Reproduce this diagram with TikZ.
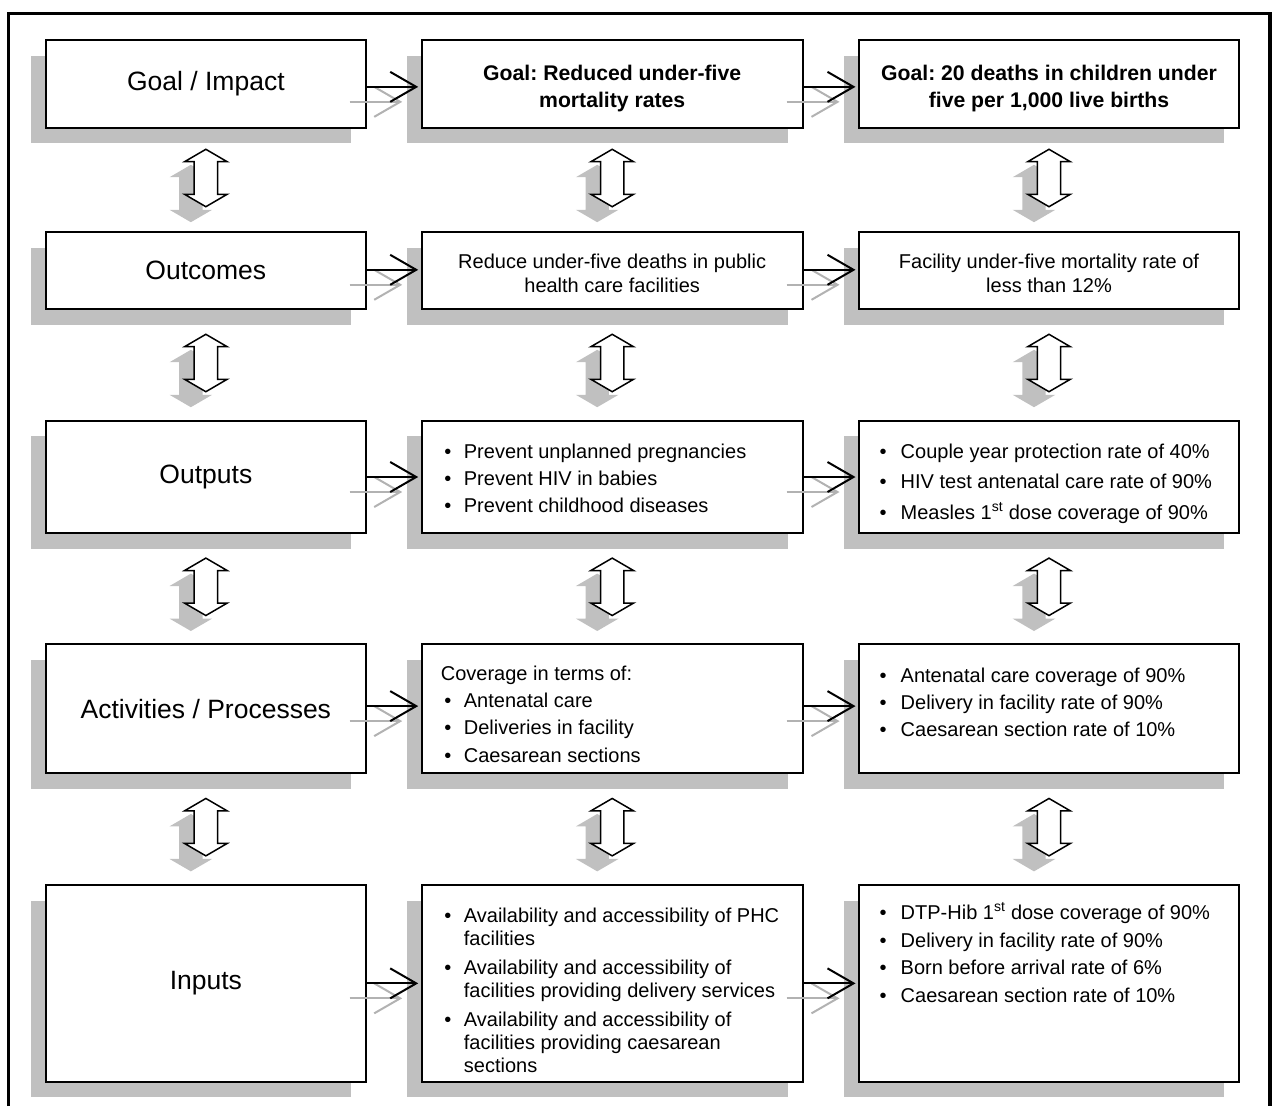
\documentclass[tikz,border=0pt]{standalone}
\usepackage{fontspec}
\setmainfont{Liberation Sans}
\usetikzlibrary{arrows.meta,calc,shadows}
\frenchspacing

\definecolor{shadegray}{RGB}{192,192,192}
\definecolor{arrowgray}{RGB}{178,178,178}

\newcommand\labelfont{\fontsize{26.5}{30}\selectfont}
\newcommand\bodyfont{\fontsize{20}{23}\selectfont}
\newcommand\goalfont{\fontsize{21.2}{23}\selectfont\bfseries}

% outline of the two-headed vertical arrow, centred on the origin
\newcommand\dblpath{(0,-28.7) -- (21.3,-16.3) -- (11.7,-16.3) -- (11.7,16.3) -- (21.3,16.3) -- (0,28.7) -- (-21.3,16.3) -- (-11.7,16.3) -- (-11.7,-16.3) -- (-21.3,-16.3) -- cycle}

% horizontal link with its grey shadow: #1 from, #2 to, #3 vertical offset
\newcommand\flowlink[3]{%
  \draw[shadowlink] ([xshift=-16pt,yshift=#3-15pt]#1.east) -- ([xshift=-16pt,yshift=#3-15pt]#2.west);
  \draw[link] ([yshift=#3]#1.east) -- ([yshift=#3]#2.west);
}

\begin{document}
\begin{tikzpicture}[x=1pt,y=-1pt,
  box/.style={draw, line width=1.8pt, fill=white, outer sep=0pt, inner sep=0pt,
    drop shadow={shadow xshift=-15pt, shadow yshift=-15.7pt, fill=shadegray, opacity=1}},
  col1/.style={box, minimum width=319.7pt, font=\labelfont},
  col2/.style={box, minimum width=381pt},
  col3/.style={box, minimum width=380pt},
  row1/.style={minimum height=87.7pt},
  row2/.style={minimum height=77pt},
  row3/.style={minimum height=112.6pt},
  row4/.style={minimum height=129pt},
  row5/.style={minimum height=196.7pt},
  ctext/.style={align=center, inner sep=0pt, font=\bodyfont},
  ltext/.style={anchor=north west, inner sep=0pt, font=\bodyfont},
  link/.style={line width=2pt, -{Straight Barb[length=26pt,width=30pt]}, shorten >=3.5pt},
  shadowlink/.style={link, draw=arrowgray},
  updown/.pic={
    \begin{scope}[shift={(-15,15.5)}]
      \fill[shadegray] \dblpath;
    \end{scope}
    \draw[line width=1.5pt, fill=white, line join=miter] \dblpath;
  }
]
\useasboundingbox (0,0) rectangle (1274,1106);

% outer frame
\draw[line width=3.3pt] (8.8,1106) -- (8.8,13.5) -- (1270,13.5) -- (1270,1106);

% ---- boxes ----
\node[col1,row1] (b11) at (205.85,83.85) {Goal / Impact};
\node[col2,row1] (b12) at (612.2,83.85) {};
\node[col3,row1] (b13) at (1049,83.85) {};

\node[col1,row2] (b21) at (205.85,270.8) {Outcomes};
\node[col2,row2] (b22) at (612.2,270.8) {};
\node[col3,row2] (b23) at (1049,270.8) {};

\node[col1,row3] (b31) at (205.85,477) {Outputs};
\node[col2,row3] (b32) at (612.2,477) {};
\node[col3,row3] (b33) at (1049,477) {};

\node[col1,row4] (b41) at (205.85,708.8) {Activities / Processes};
\node[col2,row4] (b42) at (612.2,708.8) {};
\node[col3,row4] (b43) at (1049,708.8) {};

\node[col1,row5] (b51) at (205.85,983.35) {Inputs};
\node[col2,row5] (b52) at (612.2,983.35) {};
\node[col3,row5] (b53) at (1049,983.35) {};

% ---- texts ----
\node[ctext, font=\goalfont] (t12) at ([yshift=-4.7pt]b12.center)
  {Goal: Reduced under-five\\[4pt]mortality rates};
\node[ctext, font=\goalfont] (t13) at ([yshift=-4.7pt]b13.center)
  {Goal: 20 deaths in children under\\[4pt]five per 1,000 live births};

\node[ctext] (t22) at ([yshift=-2.2pt]b22.center)
  {Reduce under-five deaths in public\\[1pt]health care facilities};
\node[ctext] (t23) at ([yshift=-2.2pt]b23.center)
  {Facility under-five mortality rate of\\[1pt]less than 12\%};

\node[ltext] (t32) at ([xshift=22.5pt,yshift=-21.2pt]b32.north west)
  {\begin{tabular}{@{}l@{\hspace{12.5pt}}l@{}}
   \textbullet & Prevent unplanned pregnancies\\[4pt]
   \textbullet & Prevent HIV in babies\\[4pt]
   \textbullet & Prevent childhood diseases
   \end{tabular}};
\node[ltext] (t33) at ([xshift=20.5pt,yshift=-21.9pt]b33.north west)
  {\begin{tabular}{@{}l@{\hspace{14pt}}l@{}}
   \textbullet & Couple year protection rate of 40\%\\[7pt]
   \textbullet & HIV test antenatal care rate of 90\%\\[7pt]
   \textbullet & Measles 1\textsuperscript{st} dose coverage of 90\%
   \end{tabular}};

\node[ltext] (t42) at ([xshift=22.5pt,yshift=-19.6pt]b42.north west)
  {\begin{tabular}{@{}l@{\hspace{12.5pt}}l@{}}
   \multicolumn{2}{@{}l@{}}{\hspace{-3.5pt}Coverage in terms of:}\\[4.3pt]
   \textbullet & Antenatal care\\[4.3pt]
   \textbullet & Deliveries in facility\\[4.3pt]
   \textbullet & Caesarean sections
   \end{tabular}};
\node[ltext] (t43) at ([xshift=20.5pt,yshift=-21.6pt]b43.north west)
  {\begin{tabular}{@{}l@{\hspace{14pt}}l@{}}
   \textbullet & Antenatal care coverage of 90\%\\[4pt]
   \textbullet & Delivery in facility rate of 90\%\\[4pt]
   \textbullet & Caesarean section rate of 10\%
   \end{tabular}};

\node[ltext] (t52) at ([xshift=22.5pt,yshift=-20.9pt]b52.north west)
  {\begin{tabular}{@{}l@{\hspace{12.5pt}}l@{}}
   \textbullet & Availability and accessibility of PHC\\
               & facilities\\[6pt]
   \textbullet & Availability and accessibility of\\
               & facilities providing delivery services\\[6pt]
   \textbullet & Availability and accessibility of\\
               & facilities providing caesarean\\
               & sections
   \end{tabular}};
\node[ltext] (t53) at ([xshift=20.5pt,yshift=-17.6pt]b53.north west)
  {\begin{tabular}{@{}l@{\hspace{14pt}}l@{}}
   \textbullet & DTP-Hib 1\textsuperscript{st} dose coverage of 90\%\\[4.7pt]
   \textbullet & Delivery in facility rate of 90\%\\[4.7pt]
   \textbullet & Born before arrival rate of 6\%\\[4.7pt]
   \textbullet & Caesarean section rate of 10\%
   \end{tabular}};

% ---- horizontal links ----
\flowlink{b11}{b12}{-3pt}
\flowlink{b12}{b13}{-3pt}
\flowlink{b21}{b22}{1pt}
\flowlink{b22}{b23}{1pt}
\flowlink{b31}{b32}{0pt}
\flowlink{b32}{b33}{0pt}
\flowlink{b41}{b42}{2.7pt}
\flowlink{b42}{b43}{2.7pt}
\flowlink{b51}{b52}{0pt}
\flowlink{b52}{b53}{0pt}

% ---- vertical two-way arrows ----
\foreach \u/\l in {b11/b21,b12/b22,b13/b23,b21/b31,b22/b32,b23/b33,b31/b41,b32/b42,b33/b43,b41/b51,b42/b52,b43/b53}
  \pic at ($(\u.south)!0.5!(\l.north)+(0,-2)$) {updown};
\end{tikzpicture}
\end{document}
